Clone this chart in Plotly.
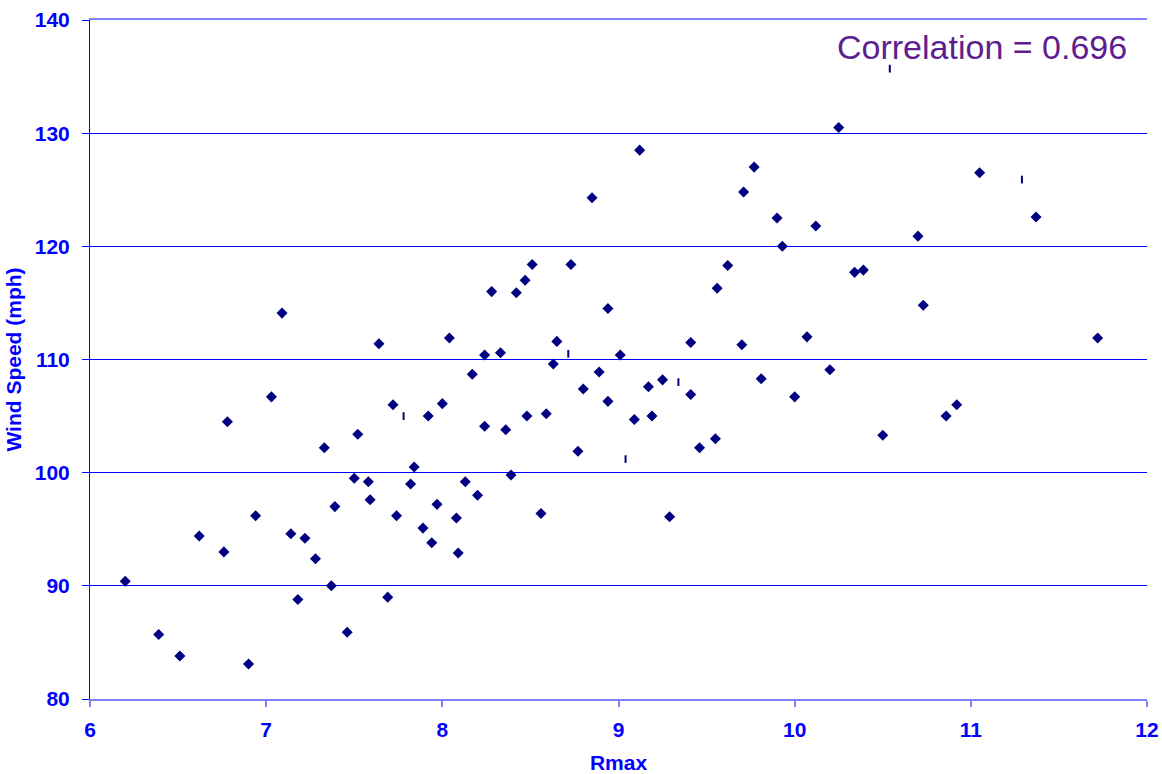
import plotly.graph_objects as go

# Storm records: radius of maximum winds vs. peak wind speed
rmax = [6.20, 6.39, 6.51, 6.62, 6.76, 6.78, 6.90, 6.94, 7.03, 7.09,
        7.14, 7.18, 7.22, 7.28, 7.33, 7.37, 7.39, 7.46, 7.50, 7.52,
        7.58, 7.59, 7.64, 7.69, 7.72, 7.74, 7.82, 7.84, 7.89, 7.92,
        7.94, 7.97, 8.00, 8.04, 8.08, 8.09, 8.13, 8.17, 8.20, 8.24,
        8.24, 8.28, 8.33, 8.36, 8.39, 8.42, 8.47, 8.48, 8.51, 8.56,
        8.59, 8.63, 8.65, 8.73, 8.77, 8.80, 8.85, 8.89, 8.94, 8.94,
        9.01, 9.09, 9.12, 9.17, 9.19, 9.25, 9.29, 9.41, 9.41, 9.46,
        9.55, 9.56, 9.62, 9.70, 9.71, 9.77, 9.81, 9.90, 9.93, 10.00,
        10.07, 10.12, 10.20, 10.25, 10.34, 10.39, 10.50, 10.70, 10.73, 10.86,
        10.92, 11.05, 11.37, 11.72]
wind = [90.4, 85.7, 83.8, 94.4, 93.0, 104.5, 83.1, 96.2, 106.7, 114.1,
        94.6, 88.8, 94.2, 92.4, 102.2, 90.0, 97.0, 85.9, 99.5, 103.4,
        99.2, 97.6, 111.4, 89.0, 106.0, 96.2, 99.0, 100.5, 95.1, 105.0,
        93.8, 97.2, 106.1, 111.9, 96.0, 92.9, 99.2, 108.7, 98.0, 104.1,
        110.4, 116.0, 110.6, 103.8, 99.8, 115.9, 117.0, 105.0, 118.4, 96.4,
        105.2, 109.6, 111.6, 118.4, 101.9, 107.4, 124.3, 108.9, 106.3, 114.5,
        110.4, 104.7, 128.5, 107.6, 105.0, 108.2, 96.1, 111.5, 106.9, 102.2,
        103.0, 116.3, 118.3, 111.3, 124.8, 127.0, 108.3, 122.5, 120.0, 106.7,
        112.0, 121.8, 109.1, 130.5, 117.7, 117.9, 103.3, 120.9, 114.8, 105.0,
        106.0, 126.5, 122.6, 111.9]

# Secondary records drawn as short vertical dashes
rmax_dash = [7.78, 8.715, 9.04, 9.34, 10.54, 11.29]
wind_dash = [105.0, 110.5, 101.2, 108.0, 135.7, 125.9]

x_ticks = [6, 7, 8, 9, 10, 11, 12]
y_ticks = [80, 90, 100, 110, 120, 130, 140]
corr_text = "Correlation = 0.696"

NAVY = "#000080"
BLUE = "#0000ff"
LIGHT = "#8080ff"
FONT = "Arial, Liberation Sans, sans-serif"
LABEL_SIZE = 21

fig = go.Figure()
fig.add_trace(go.Scatter(
    x=rmax, y=wind, mode="markers",
    marker=dict(symbol="diamond", size=8.5, color=NAVY, line=dict(width=0)),
    showlegend=False, cliponaxis=False,
))
fig.add_trace(go.Scatter(
    x=rmax_dash, y=wind_dash, mode="markers",
    marker=dict(symbol="line-ns", size=5.5, color=NAVY,
                line=dict(width=2, color=NAVY)),
    showlegend=False,
))

fig.add_annotation(
    x=10.23, y=137.6, xref="x", yref="y", text=corr_text,
    showarrow=False, xanchor="left", yanchor="middle",
    font=dict(family=FONT, size=34, color="#5e1e90"),
)

fig.update_layout(
    width=1162, height=774,
    margin=dict(l=90, r=15, t=20, b=75, autoexpand=False),
    paper_bgcolor="white", plot_bgcolor="white",
    font=dict(family=FONT, color=BLUE),
)
fig.update_xaxes(
    range=[6, 12], tickvals=x_ticks, ticktext=[str(v) for v in x_ticks],
    automargin=False,
    showgrid=False, zeroline=False,
    showline=True, linecolor=LIGHT, linewidth=2, mirror=True,
    ticks="outside", ticklen=6, tickcolor=LIGHT, tickwidth=2,
    ticklabelstandoff=5,
    tickfont=dict(family=FONT, size=LABEL_SIZE, color=BLUE, weight="bold"),
    title=dict(text="Rmax", standoff=16,
               font=dict(family=FONT, size=LABEL_SIZE, color=BLUE, weight="bold")),
)
fig.update_yaxes(
    range=[80, 140], tickvals=y_ticks, ticktext=[str(v) for v in y_ticks],
    automargin=False,
    showgrid=True, gridcolor=BLUE, gridwidth=1, zeroline=False,
    showline=True, linecolor=BLUE, linewidth=1,
    ticks="outside", ticklen=7, tickcolor=BLUE, tickwidth=1,
    ticklabelstandoff=8,
    tickfont=dict(family=FONT, size=LABEL_SIZE, color=BLUE, weight="bold"),
    title=dict(text="Wind Speed (mph)", standoff=7,
               font=dict(family=FONT, size=LABEL_SIZE, color=BLUE, weight="bold")),
)

fig.write_html("out.html")
